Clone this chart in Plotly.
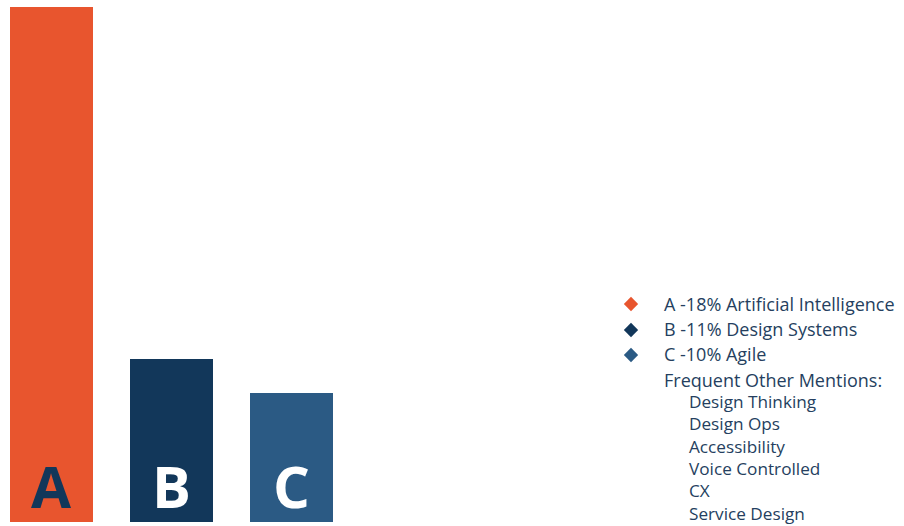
import plotly.graph_objects as go

categories = ["A", "B", "C"]
bar_values = [18, 5.7, 4.5]
bar_colors = ["#E8552E", "#12375A", "#2B5A84"]
letter_colors = ["#12375A", "#FFFFFF", "#FFFFFF"]
legend_labels = ["A -18% Artificial Intelligence", "B -11% Design Systems", "C -10% Agile"]
other_header = "Frequent Other Mentions:"
other_mentions = ["Design Thinking", "Design Ops", "Accessibility", "Voice Controlled", "CX", "Service Design"]

W, H = 904, 526
text_color = "#253F60"
font_family = "Open Sans"

fig = go.Figure()
fig.add_trace(go.Bar(
    x=list(range(len(categories))), y=bar_values,
    marker=dict(color=bar_colors, line=dict(width=0)),
    width=0.692, hoverinfo="skip", showlegend=False,
))

annotations = []
for i, (c, col) in enumerate(zip(categories, letter_colors)):
    annotations.append(dict(
        x=i, y=0, xref="x", yref="y", text=f"<b>{c}</b>", showarrow=False,
        yanchor="bottom", yshift=-5,
        font=dict(family=font_family, size=58, color=col),
    ))

# legend block (pixel positions converted to paper fractions)
def py(p):
    return 1 - p / H

def px(p):
    return p / W

line_y = [306, 332, 357, 383]
fig.add_trace(go.Scatter(
    x=[px(631)] * 3, y=[py(v - 2) for v in line_y[:3]], mode="markers",
    marker=dict(symbol="diamond", size=11, color=bar_colors),
    xaxis="x2", yaxis="y2", hoverinfo="skip", showlegend=False,
))
texts = legend_labels + [other_header]
for k, t in enumerate(texts):
    annotations.append(dict(
        x=px(663), y=py(line_y[k]), xref="paper", yref="paper", text=t,
        showarrow=False, xanchor="left", yanchor="middle", borderpad=0,
        font=dict(family=font_family, size=18, color=text_color),
    ))
annotations.append(dict(
    x=px(688), y=py(392), xref="paper", yref="paper",
    text="<br>".join(other_mentions), align="left",
    showarrow=False, xanchor="left", yanchor="top", borderpad=0,
    font=dict(family=font_family, size=17.2, color=text_color),
))

fig.update_layout(
    width=W, height=H,
    margin=dict(l=0, r=0, t=0, b=4),
    paper_bgcolor="white", plot_bgcolor="white",
    bargap=0,
    xaxis=dict(range=[-0.429, 7.104], visible=False, fixedrange=True),
    yaxis=dict(range=[0, 18.245], visible=False, fixedrange=True),
    xaxis2=dict(range=[0, 1], visible=False, overlaying="x", domain=[0, 1]),
    yaxis2=dict(range=[4 / H, 1], visible=False, overlaying="y"),
    annotations=annotations,
)
fig.write_html("out.html", config={"displayModeBar": False},
               post_script="document.body.style.margin='0';document.body.style.overflow='hidden';")
